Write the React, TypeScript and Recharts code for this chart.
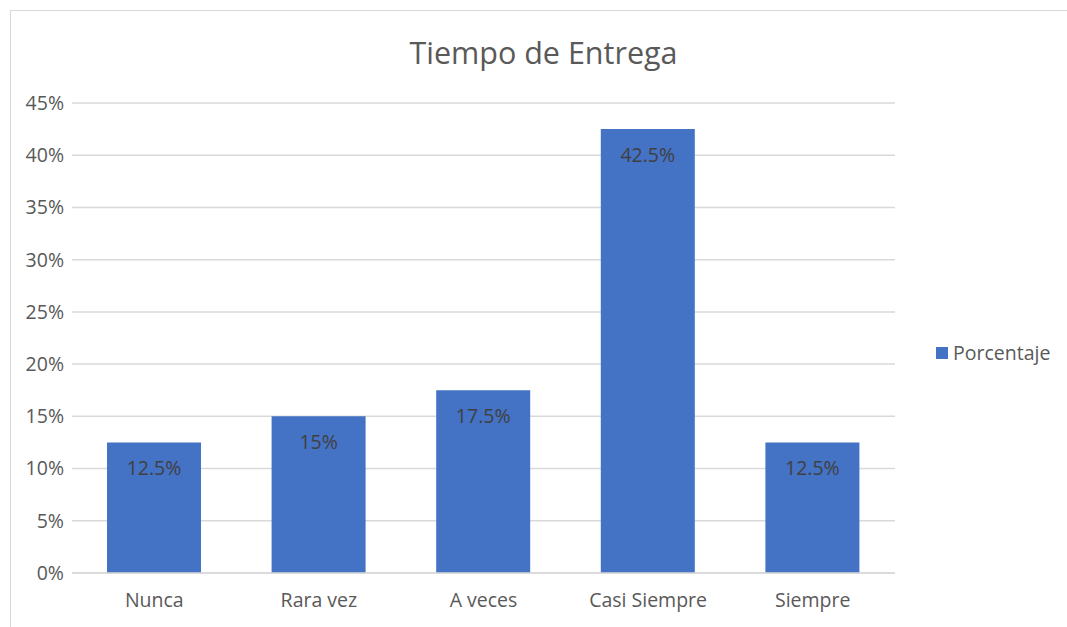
import { Bar, BarChart, CartesianGrid, LabelList, XAxis, YAxis } from 'recharts';

const categories = ['Nunca', 'Rara vez', 'A veces', 'Casi Siempre', 'Siempre'];
const porcentaje = [12.5, 15, 17.5, 42.5, 12.5];
const yTicks = [0, 5, 10, 15, 20, 25, 30, 35, 40, 45];

const data = categories.map((name, i) => ({ name, Porcentaje: porcentaje[i] }));

const FONT = '"Open Sans", sans-serif';
const BAR_COLOR = '#4472C4';
const TEXT = '#595959';

export default function App() {
  return (
    <div style={{ position: 'fixed', left: 0, top: 0, width: 1067, height: 627, overflow: 'hidden', background: '#fff' }}>
      <div
        style={{
          position: 'absolute', left: 10, top: 10, width: 1100, height: 700,
          border: '1.5px solid #d9d9d9', boxSizing: 'border-box',
        }}
      />
      <div
        style={{
          position: 'absolute', left: 0, top: 31, width: 1087, textAlign: 'center',
          fontFamily: FONT, fontSize: 30.5, color: TEXT, lineHeight: '42px',
        }}
      >
        Tiempo de Entrega
      </div>
      {/* legend sits outside the chart so it doesn't shrink the plot */}
      <div
        style={{
          position: 'absolute', left: 936, top: 341, display: 'flex', alignItems: 'center',
          fontFamily: FONT, fontSize: 19.5, color: TEXT, lineHeight: '24px',
        }}
      >
        <span style={{ width: 12, height: 12, background: BAR_COLOR, marginRight: 5, display: 'inline-block' }} />
        Porcentaje
      </div>
      <div style={{ position: 'absolute', left: 0, top: 0 }}>
        <BarChart
          width={1067}
          height={627}
          data={data}
          margin={{ top: 103, right: 172, bottom: 0, left: 0 }}
          barSize={94}
        >
          <CartesianGrid vertical={false} stroke="#d9d9d9" strokeWidth={1.5} />
          <XAxis
            dataKey="name"
            height={54}
            tickLine={false}
            axisLine={{ stroke: '#d9d9d9', strokeWidth: 1.5 }}
            tickMargin={14}
            tick={{ fill: TEXT, fontSize: 19.5, fontFamily: FONT }}
          />
          <YAxis
            width={72}
            domain={[0, 45]}
            ticks={yTicks}
            tickFormatter={(v) => `${v}%`}
            tickLine={false}
            axisLine={false}
            tick={{ fill: TEXT, fontSize: 19.5, fontFamily: FONT }}
          />
          <Bar dataKey="Porcentaje" fill={BAR_COLOR} isAnimationActive={false}>
            <LabelList
              dataKey="Porcentaje"
              position="insideTop"
              offset={19}
              formatter={(v: number) => `${v}%`}
              style={{ fill: '#404040', fontSize: 19.5, fontFamily: FONT }}
            />
          </Bar>
        </BarChart>
      </div>
    </div>
  );
}
